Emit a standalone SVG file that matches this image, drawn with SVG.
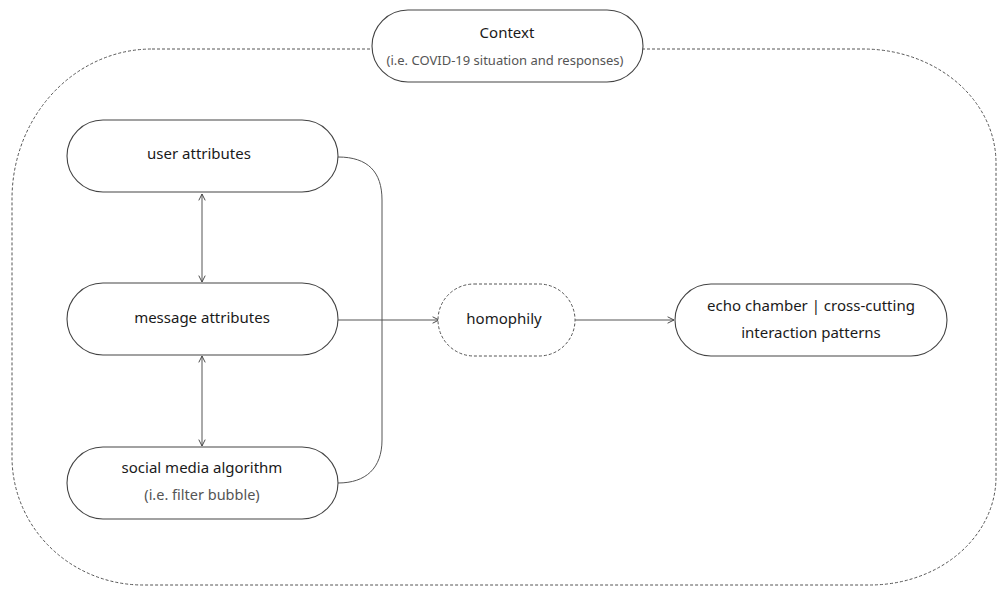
<svg xmlns="http://www.w3.org/2000/svg" width="997" height="589" viewBox="0 0 997 589">
<defs>
<marker id="arr" viewBox="0 0 10 10" refX="9" refY="5" markerWidth="8" markerHeight="8" markerUnits="userSpaceOnUse" orient="auto-start-reverse">
<polyline points="1,1 9,5 1,9" fill="none" stroke="#444" stroke-width="1.2"/>
</marker>
<style>
.box{fill:#fff;stroke:#444;stroke-width:1.1}
.dash{fill:#fff;stroke:#555;stroke-width:1;stroke-dasharray:3 2}
.outer{fill:none;stroke:#555;stroke-width:1;stroke-dasharray:3 2}
.lbl{font-family:"Noto Sans","Open Sans",sans-serif;font-size:15px;fill:#1a1a1a;text-anchor:middle;dominant-baseline:central}
.sub{font-family:"Noto Sans","Open Sans",sans-serif;font-size:13px;fill:#555;text-anchor:middle;dominant-baseline:central}
.conn{fill:none;stroke:#555;stroke-width:1}
</style>
</defs>
<rect width="997" height="589" fill="#fff"/>
<g id="context-frame">
<path class="outer" d="M152,49 L863,49 A133 114 0 0 1 996,163 L996,477 A126 108 0 0 1 870,585 L143,585 A131 128 0 0 1 12,457 L12,199 A140 150 0 0 1 152,49 Z"/>
</g>
<g id="connectors">
<line class="conn" x1="202" y1="194" x2="202" y2="282" marker-start="url(#arr)" marker-end="url(#arr)"/>
<line class="conn" x1="202" y1="356" x2="202" y2="446" marker-start="url(#arr)" marker-end="url(#arr)"/>
<path class="conn" d="M338,157 C368,157 382,172 382,200 L382,440 C382,468 366,483 338,483"/>
<line class="conn" x1="338" y1="320" x2="439" y2="320" marker-end="url(#arr)"/>
<line class="conn" x1="575" y1="320" x2="674" y2="320" marker-end="url(#arr)"/>
</g>
<g id="context">
<rect class="box" x="372" y="10" width="271" height="72" rx="36"/>
<text class="lbl" x="507" y="32">Context</text>
<text class="sub" x="505" y="60">(i.e. COVID-19 situation and responses)</text>
</g>
<g id="user-attributes">
<rect class="box" x="67" y="120" width="271" height="72" rx="36"/>
<text class="lbl" x="199" y="153">user attributes</text>
</g>
<g id="message-attributes">
<rect class="box" x="67" y="283" width="271" height="72" rx="36"/>
<text class="lbl" x="202" y="317">message attributes</text>
</g>
<g id="social-media-algorithm">
<rect class="box" x="67" y="447" width="271" height="72" rx="36"/>
<text class="lbl" x="202" y="467">social media algorithm</text>
<text class="sub" x="202" y="494" style="font-size:14.5px">(i.e. filter bubble)</text>
</g>
<g id="homophily">
<rect class="dash" x="438" y="284" width="137" height="72" rx="36"/>
<text class="lbl" x="504" y="318">homophily</text>
</g>
<g id="echo-chamber">
<rect class="box" x="675" y="284" width="272" height="72" rx="36"/>
<text class="lbl" x="811" y="305">echo chamber | cross-cutting</text>
<text class="lbl" x="811" y="332">interaction patterns</text>
</g>
</svg>
